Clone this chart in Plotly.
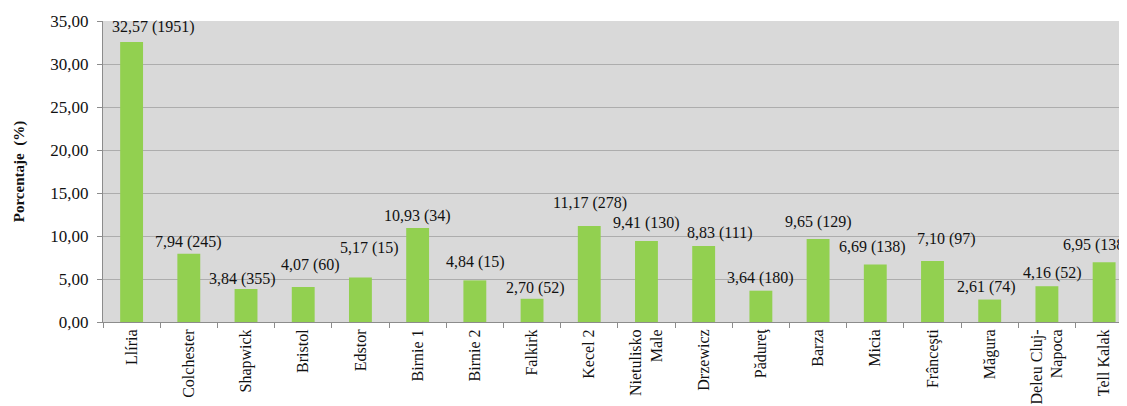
import plotly.graph_objects as go

categories = ["Llíria", "Colchester", "Shapwick", "Bristol", "Edstor", "Birnie 1",
              "Birnie 2", "Falkirk", "Kecel 2", "Nietulisko<br>Male", "Drzewicz",
              "Pădureţ", "Barza", "Micia", "Frânceşti", "Măgura",
              "Deleu Cluj-<br>Napoca", "Tell Kalak"]
percent = [32.57, 7.94, 3.84, 4.07, 5.17, 10.93, 4.84, 2.70, 11.17, 9.41, 8.83,
           3.64, 9.65, 6.69, 7.10, 2.61, 4.16, 6.95]
counts = [1951, 245, 355, 60, 15, 34, 15, 52, 278, 130, 111, 180, 129, 138, 97, 74, 52, 138]

# label placement tweaks (pixels): horizontal shift, height of label centre above bar top
label_dx = [22, 0, -4, 7, 9, 0, 1, 3, 1, 0, 16, 0, 0, -3, 14, -3, 6, -8]
label_dy = [15, 12, 10, 22, 30, 12, 18, 11, 23, 18, 13, 13, 17, 17, 22, 13, 13, 17]

FONT = "Liberation Serif"

fig = go.Figure()
fig.add_trace(go.Bar(
    x=categories, y=percent,
    marker=dict(color="#92D050", line=dict(width=0)),
    hoverinfo="x+y",
))

for c, p, n, dx, dy in zip(categories, percent, counts, label_dx, label_dy):
    fig.add_annotation(
        x=c, y=p, xref="x", yref="y",
        text=f"{p:.2f}".replace(".", ",") + f" ({n})",
        showarrow=False, xanchor="center", yanchor="middle",
        xshift=dx, yshift=dy,
        font=dict(family=FONT, size=16, color="#111111"),
    )

# the page body adds an 8px offset, so the figure is sized to fill the window
fig.update_layout(
    width=1119, height=398,
    margin=dict(l=95, r=0, t=13, b=84, autoexpand=False),
    paper_bgcolor="white",
    plot_bgcolor="#D9D9D9",
    separators=",.",
    bargap=0.6,
    showlegend=False,
    font=dict(family=FONT, size=16, color="#111111"),
    xaxis=dict(
        type="category",
        range=[-0.5, 17.4],
        tickangle=-90,
        ticks="outside", ticklen=5, tickcolor="#8C8C8C",
        tickson="boundaries",
        showline=True, linecolor="#8C8C8C", linewidth=1,
        showgrid=False,
        automargin=False,
        tickfont=dict(family=FONT, size=16, color="#111111"),
    ),
    yaxis=dict(
        range=[0, 35],
        dtick=5,
        tickformat=".2f",
        ticks="outside", ticklen=5, tickcolor="#8C8C8C",
        ticklabelstandoff=5,
        showline=True, linecolor="#8C8C8C", linewidth=1,
        gridcolor="#ADADAD", gridwidth=1,
        zeroline=False,
        automargin=False,
        tickfont=dict(family=FONT, size=17, color="#111111"),
        title=dict(text="<b>Porcentaje  (%)</b>",
                   font=dict(family=FONT, size=15, color="#111111"),
                   standoff=22),
    ),
)

fig.write_html("out.html")
